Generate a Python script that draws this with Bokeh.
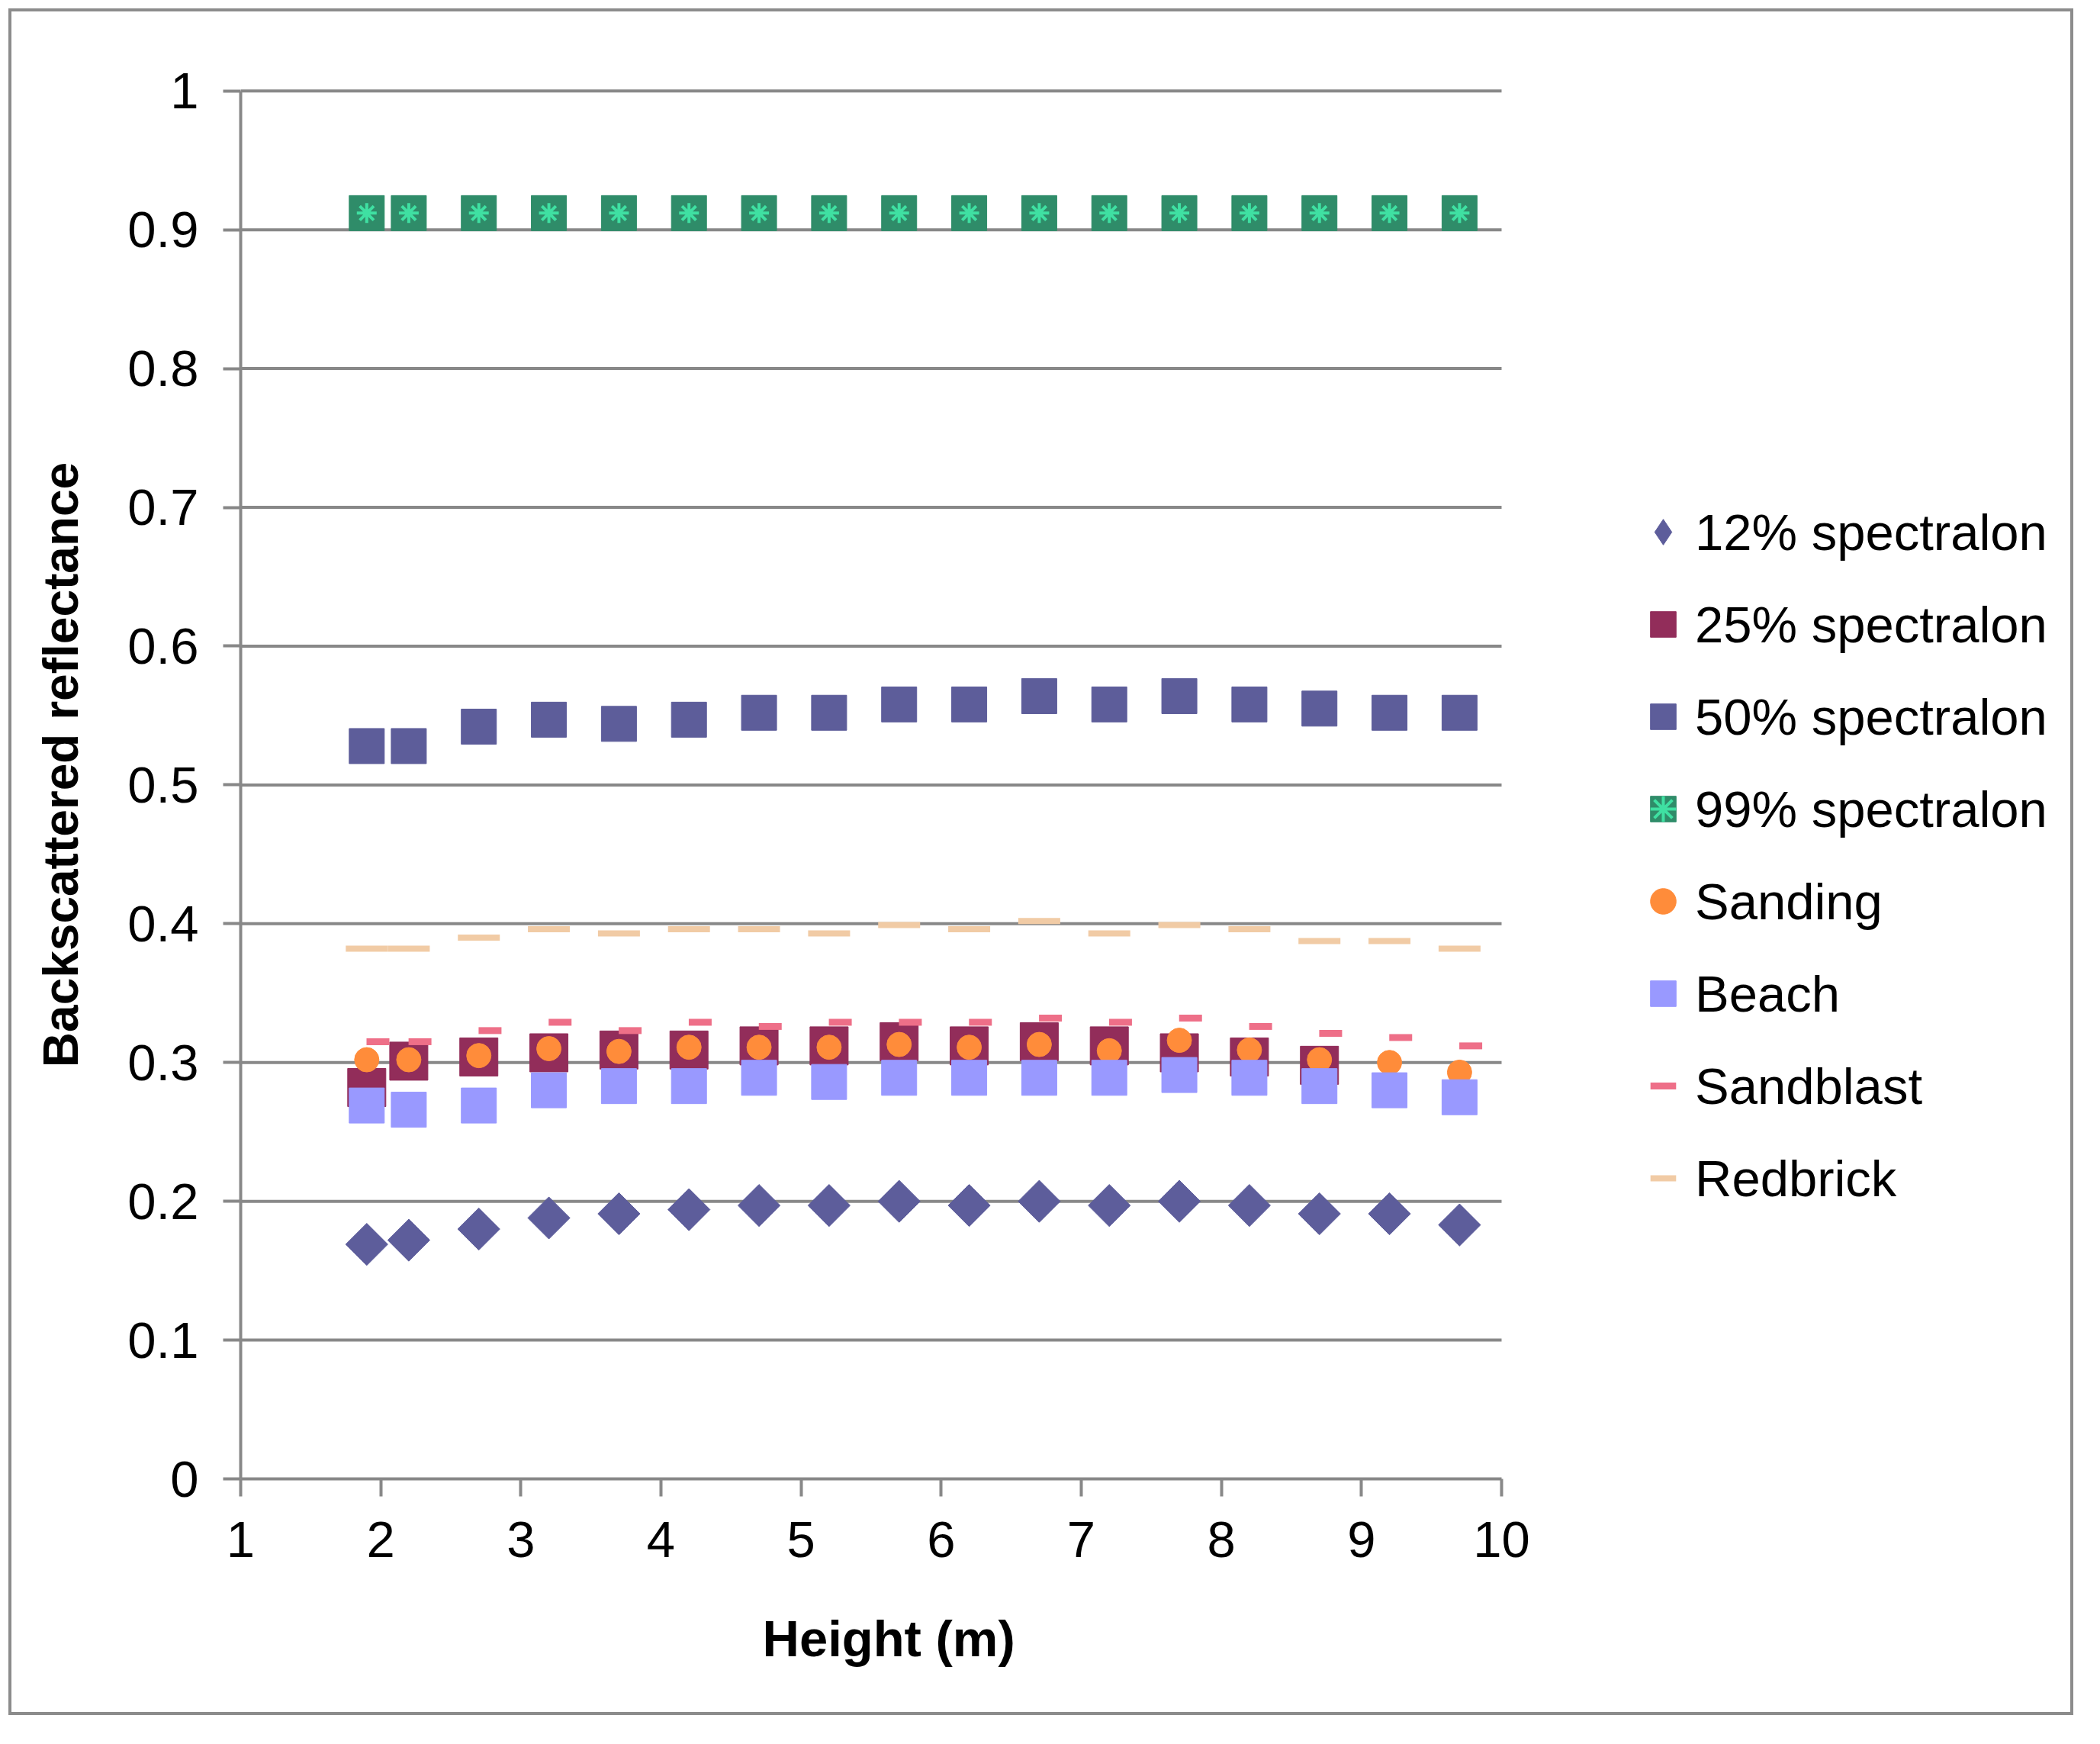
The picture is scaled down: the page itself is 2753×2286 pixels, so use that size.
import math
from bokeh.plotting import figure
from bokeh.models import Legend, LegendItem, FixedTicker, Range1d, ColumnDataSource, Title
from bokeh.transform import dodge
from bokeh.embed import file_html
from bokeh.resources import INLINE

# ---------------- data ----------------
heights = [1.9, 2.2, 2.7, 3.2, 3.7, 4.2, 4.7, 5.2, 5.7, 6.2, 6.7, 7.2, 7.7, 8.2, 8.7, 9.2, 9.7]
spec12 = [0.169, 0.172, 0.180, 0.188, 0.191, 0.194, 0.197, 0.197, 0.200, 0.197, 0.200, 0.197, 0.200, 0.197, 0.191, 0.191, 0.183]
heights25 = [1.9, 2.2, 2.7, 3.2, 3.7, 4.2, 4.7, 5.2, 5.7, 6.2, 6.7, 7.2, 7.7, 8.2, 8.7]
spec25 = [0.282, 0.301, 0.304, 0.307, 0.309, 0.309, 0.312, 0.312, 0.315, 0.312, 0.315, 0.312, 0.307, 0.304, 0.298]
spec50 = [0.528, 0.528, 0.542, 0.547, 0.544, 0.547, 0.552, 0.552, 0.558, 0.558, 0.564, 0.558, 0.564, 0.558, 0.555, 0.552, 0.552]
spec99 = [0.912, 0.912, 0.912, 0.912, 0.912, 0.912, 0.912, 0.912, 0.912, 0.912, 0.912, 0.912, 0.912, 0.912, 0.912, 0.912, 0.912]
sanding = [0.302, 0.302, 0.305, 0.310, 0.308, 0.311, 0.311, 0.311, 0.313, 0.311, 0.313, 0.3085, 0.316, 0.309, 0.302, 0.300, 0.293]
beach = [0.269, 0.266, 0.269, 0.280, 0.283, 0.283, 0.289, 0.286, 0.289, 0.289, 0.289, 0.289, 0.291, 0.289, 0.283, 0.280, 0.275]
sandblast = [0.315, 0.315, 0.323, 0.329, 0.323, 0.329, 0.326, 0.329, 0.329, 0.329, 0.332, 0.329, 0.332, 0.326, 0.321, 0.318, 0.312]
redbrick = [0.382, 0.382, 0.390, 0.396, 0.393, 0.396, 0.396, 0.393, 0.399, 0.396, 0.402, 0.393, 0.399, 0.396, 0.3875, 0.3875, 0.382]

series_names = ["12% spectralon", "25% spectralon", "50% spectralon", "99% spectralon",
                "Sanding", "Beach", "Sandblast", "Redbrick"]

x_ticks = [1, 2, 3, 4, 5, 6, 7, 8, 9, 10]
y_ticks = [0, 0.1, 0.2, 0.3, 0.4, 0.5, 0.6, 0.7, 0.8, 0.9, 1]
y_tick_labels = ["0", "0.1", "0.2", "0.3", "0.4", "0.5", "0.6", "0.7", "0.8", "0.9", "1"]

x_title = "Height (m)"
y_title = "Backscattered reflectance"

# ---------------- layout ----------------
FONT = "Liberation Sans"
GRID = "#888888"

W, H = 2707, 2237
LEFT, BOTTOM, RIGHT = 300, 313, 20
AXIS_W = 1653          # pixel width of the 1..10 axis
AXIS_H = 1820          # pixel height of the 0..1 axis
TOP_PAD = 0.029        # headroom above 1 (keeps top gridline unclipped, centres the y title)
frame_w = W - LEFT - RIGHT
x_end = x_ticks[0] + (x_ticks[-1] - x_ticks[0]) * frame_w / AXIS_W
y_end = y_ticks[-1] + TOP_PAD
frame_h = AXIS_H * (y_end - y_ticks[0]) / (y_ticks[-1] - y_ticks[0])
TOP = int(round(H - BOTTOM - frame_h))

p = figure(width=W, height=H, output_backend="svg", toolbar_location=None, tools="",
           x_range=Range1d(x_ticks[0], x_end), y_range=Range1d(y_ticks[0], y_end),
           min_border_left=LEFT, min_border_right=RIGHT, min_border_top=TOP,
           min_border_bottom=BOTTOM)
p.styles = {"border": "4px solid #8c8c8c", "transform": "translate(11px, 11px)"}
p.outline_line_color = None
p.background_fill_color = "white"
p.border_fill_color = "white"

# grid, drawn only over the 1..10 span (the frame is wider to hold the legend)
p.xgrid.visible = False
p.ygrid.visible = False
p.segment(x0=x_ticks[0], x1=x_ticks[-1], y0=y_ticks[1:], y1=y_ticks[1:],
          line_color=GRID, line_width=4)

# axes
for ax in (p.xaxis[0], p.yaxis[0]):
    ax.axis_line_color = GRID
    ax.axis_line_width = 4
    ax.major_tick_line_color = GRID
    ax.major_tick_line_width = 4
    ax.major_tick_out = 23
    ax.major_tick_in = 0
    ax.minor_tick_line_color = None
    ax.major_label_text_font = FONT
    ax.major_label_text_font_size = "67px"
    ax.major_label_text_color = "black"
    ax.axis_label_text_font = FONT
    ax.axis_label_text_font_style = "bold"
    ax.axis_label_text_color = "black"

p.xaxis.ticker = FixedTicker(ticks=x_ticks)
p.xaxis.bounds = (x_ticks[0], x_ticks[-1])
p.xaxis.major_label_standoff = 33
p.xaxis.axis_label = None

p.yaxis.ticker = FixedTicker(ticks=y_ticks)
p.yaxis.bounds = (y_ticks[0], y_ticks[-1])
p.yaxis.major_label_overrides = {t: l for t, l in zip(y_ticks, y_tick_labels)}
p.yaxis.major_label_standoff = 32
p.yaxis.axis_label = y_title
p.yaxis.axis_label_text_font_size = "64px"
p.yaxis.axis_label_standoff = 48

# x title placed under the 1..10 span
xt = Title(text=x_title, align="left", offset=684, vertical_align="top", standoff=132,
           text_font=FONT, text_font_style="bold", text_font_size="67px", text_color="black")
p.add_layout(xt, "below")

# ---------------- series ----------------
# diamond used for the legend swatch; hidden beneath the plotted diamonds
r12_key = p.scatter(heights, spec12, marker="diamond", size=50,
                    fill_color="#5d5d9b", line_color="#5d5d9b")
r12 = p.scatter(heights, spec12, marker="square", angle=math.pi / 4, size=39,
                fill_color="#5d5d9b", line_color="#5d5d9b")
r25 = p.scatter(heights25, spec25, marker="square", size=50,
                fill_color="#922d5a", line_color="#922d5a")
r50 = p.scatter(heights, spec50, marker="square", size=46,
                fill_color="#5d5d9a", line_color="#5d5d9a")
r99a = p.scatter(heights, spec99, marker="square", size=46,
                 fill_color="#2f8c69", line_color="#2f8c69")
r99b = p.scatter(heights, spec99, marker="asterisk", size=26,
                 line_color="#3fe0a2", line_width=4)
rsand = p.scatter(heights, sanding, marker="circle", size=32,
                  fill_color="#ff8c3a", line_color="#ff8c3a")
rbeach = p.scatter(heights, beach, marker="square", size=46,
                   fill_color="#9999ff", line_color="#9999ff")
sb_src = ColumnDataSource(dict(x=heights, y=sandblast))
rblast = p.scatter(dodge("x", 0.08, range=p.x_range), "y", source=sb_src, marker="dash",
                   size=30, line_color="#ee6f88", line_width=9)
rbrick = p.scatter(heights, redbrick, marker="dash", size=55,
                   line_color="#f1cba5", line_width=8)

renderers = [[r12_key], [r25], [r50], [r99a, r99b], [rsand], [rbeach], [rblast], [rbrick]]
items = [LegendItem(label=n, renderers=r) for n, r in zip(series_names, renderers)]

legend = Legend(items=items, location=(1823, 344), orientation="vertical",
                glyph_width=84, glyph_height=100, label_height=100, spacing=21,
                padding=0, margin=0, label_standoff=0,
                border_line_color=None, background_fill_alpha=0,
                label_text_font=FONT, label_text_font_size="67px", label_text_color="black")
p.add_layout(legend, "center")

open("out.html", "w").write(file_html(p, INLINE))
